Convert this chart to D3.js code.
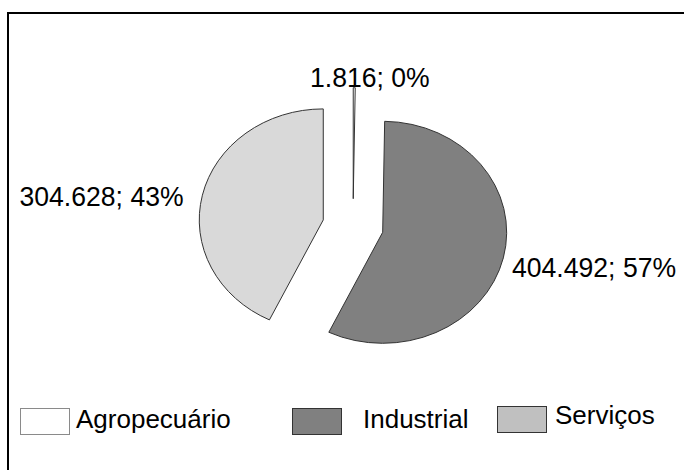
<!DOCTYPE html>
<html>
<head>
<meta charset="utf-8">
<script src="https://cdn.jsdelivr.net/npm/d3@7"></script>
<style>
  html, body { margin: 0; padding: 0; background: #fff; }
  svg { display: block; font-family: "Liberation Sans", Arial, sans-serif; }
</style>
</head>
<body>
<svg id="chart" width="684" height="470"></svg>
<script>
// Produção por setor
const categories = ["Agropecuário", "Industrial", "Serviços"];
const values = [1816, 404492, 304628];

const sliceFill = ["#ffffff", "#808080", "#d9d9d9"];
const legendFill = ["#ffffff", "#808080", "#c0c0c0"];
const legendStroke = ["#8a8a8a", "#333333", "#333333"];

const svg = d3.select("#chart");

// moldura
svg.append("rect")
  .attr("x", 8).attr("y", 13)
  .attr("width", 720).attr("height", 500)
  .attr("fill", "none").attr("stroke", "#000").attr("stroke-width", 2);

const br = d3.formatLocale({ decimal: ",", thousands: ".", grouping: [3], currency: ["R$", ""] });
const fmtNum = br.format(",d");
const total = d3.sum(values);
const fmtPct = v => Math.round(v / total * 100) + "%";

// pizza elíptica com fatias destacadas
const cx = 353, cy = 226, rx = 124, ry = 111, explode = 30.5;
const k = ry / rx;

const pie = d3.pie().sort(null).value(d => d).startAngle(0).endAngle(2 * Math.PI);
const arcs = pie(values);
const arc = d3.arc().innerRadius(0).outerRadius(rx);

const slices = svg.append("g");
arcs.forEach((a, i) => {
  const mid = (a.startAngle + a.endAngle) / 2;
  const dx = Math.sin(mid) * explode;
  const dy = -Math.cos(mid) * explode * k;
  slices.append("path")
    .attr("transform", `translate(${cx + dx},${cy + dy}) scale(1,${k})`)
    .attr("d", arc(a))
    .attr("fill", sliceFill[i])
    .attr("stroke", "#333")
    .attr("stroke-width", 1)
    .attr("vector-effect", "non-scaling-stroke");
});

// rótulos de dados (fonte levemente condensada)
const labelPos = [
  { x: 310, y: 87 },
  { x: 512, y: 277 },
  { x: 19.5, y: 206 }
];
values.forEach((v, i) => {
  const p = labelPos[i];
  svg.append("text")
    .attr("transform", `translate(${p.x},${p.y}) scale(0.95,1)`)
    .attr("font-size", 28)
    .attr("fill", "#000")
    .text(`${fmtNum(v)}; ${fmtPct(v)}`);
});

// legenda
const legendPos = [
  { rx: 20, ry: 408, tx: 76, ty: 428 },
  { rx: 292, ry: 408, tx: 363, ty: 428 },
  { rx: 497, ry: 406, tx: 555, ty: 424 }
];
categories.forEach((c, i) => {
  const p = legendPos[i];
  svg.append("rect")
    .attr("x", p.rx + 0.5).attr("y", p.ry + 0.5)
    .attr("width", 49).attr("height", 26)
    .attr("fill", legendFill[i])
    .attr("stroke", legendStroke[i]).attr("stroke-width", 1);
  svg.append("text")
    .attr("x", p.tx).attr("y", p.ty)
    .attr("font-size", 26)
    .attr("fill", "#000")
    .text(c);
});
</script>
</body>
</html>
